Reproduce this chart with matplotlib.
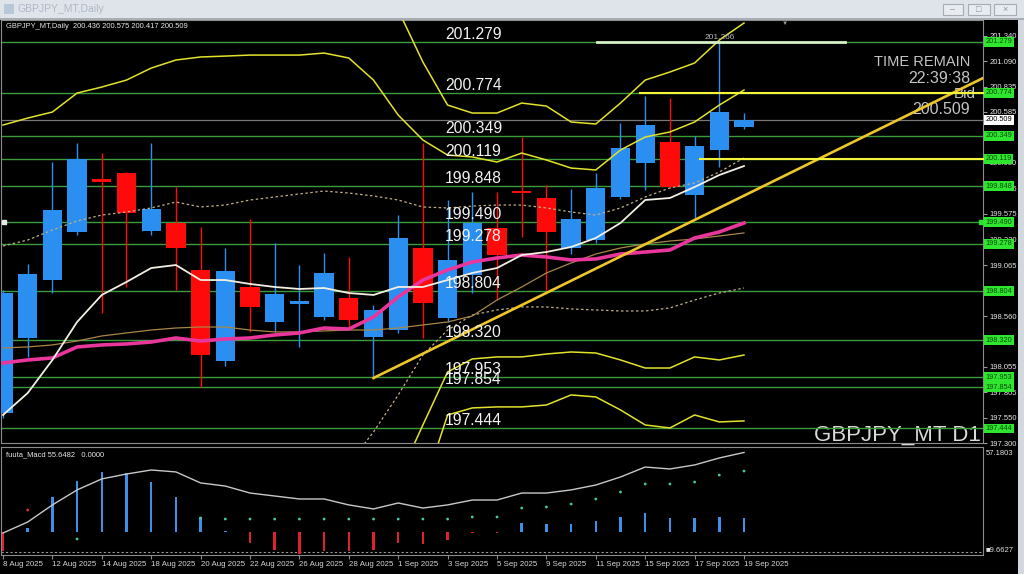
import numpy as np
import matplotlib.pyplot as plt
from matplotlib.patches import Rectangle
from matplotlib.transforms import blended_transform_factory

plt.rcParams['font.family'] = ['Liberation Sans', 'DejaVu Sans']

# ---- daily bars, GBPJPY 8 Aug .. 19 Sep 2025 ----
dates = ["8 Aug 2025", "11 Aug 2025", "12 Aug 2025", "13 Aug 2025", "14 Aug 2025",
         "15 Aug 2025", "18 Aug 2025", "19 Aug 2025", "20 Aug 2025", "21 Aug 2025",
         "22 Aug 2025", "25 Aug 2025", "26 Aug 2025", "27 Aug 2025", "28 Aug 2025",
         "29 Aug 2025", "1 Sep 2025", "2 Sep 2025", "3 Sep 2025", "4 Sep 2025",
         "5 Sep 2025", "8 Sep 2025", "9 Sep 2025", "10 Sep 2025", "11 Sep 2025",
         "12 Sep 2025", "15 Sep 2025", "16 Sep 2025", "17 Sep 2025", "18 Sep 2025",
         "19 Sep 2025"]
opens = [197.598, 198.342, 198.917, 199.394, 199.899, 199.979, 199.404, 199.483, 199.017, 198.114,
         198.848, 198.501, 198.679, 198.550, 198.739, 198.352, 198.421, 199.235, 198.540, 198.967,
         199.433, 199.800, 199.731, 199.235, 199.314, 199.741, 200.078, 200.286, 199.761, 200.207,
         200.436]
highs = [198.820, 199.076, 200.088, 200.276, 200.177, 199.989, 200.276, 199.840, 199.443, 199.235,
         199.523, 199.284, 199.066, 199.185, 199.146, 198.669, 199.562, 200.276, 199.711, 199.790,
         199.790, 200.336, 199.860, 199.820, 199.979, 200.475, 200.743, 200.723, 200.346, 201.266,
         200.575]
lows = [197.550, 198.154, 198.788, 199.364, 198.590, 198.848, 199.364, 198.818, 197.856, 198.064,
        198.402, 198.402, 198.253, 198.521, 198.441, 197.955, 198.392, 198.342, 198.501, 198.788,
        198.719, 199.344, 198.818, 199.175, 199.284, 199.721, 199.810, 199.830, 199.532, 200.038,
        200.417]
closes = [198.788, 198.977, 199.612, 200.118, 199.890, 199.582, 199.622, 199.235, 198.173, 199.007,
          198.650, 198.779, 198.699, 198.987, 198.521, 198.620, 199.334, 198.689, 199.116, 199.483,
          199.166, 199.780, 199.394, 199.523, 199.830, 200.227, 200.455, 199.840, 200.247, 200.584,
          200.509]

# moving averages
ma_fast = [197.578, 197.796, 198.124, 198.501, 198.769, 198.898, 199.036, 199.066, 198.917, 198.917,
           198.878, 198.848, 198.828, 198.838, 198.788, 198.769, 198.848, 198.848, 198.917, 198.987,
           199.036, 199.165, 199.195, 199.245, 199.334, 199.483, 199.711, 199.731, 199.840, 199.959,
           200.048]
ma_mid = [198.094, 198.124, 198.144, 198.253, 198.273, 198.283, 198.302, 198.342, 198.312, 198.332,
          198.342, 198.372, 198.392, 198.441, 198.431, 198.550, 198.749, 198.917, 199.017, 199.096,
          199.136, 199.165, 199.146, 199.116, 199.126, 199.175, 199.195, 199.215, 199.334, 199.394,
          199.483]
ma_slow = [198.243, 198.253, 198.273, 198.312, 198.362, 198.392, 198.421, 198.441, 198.451, 198.451,
           198.421, 198.402, 198.402, 198.412, 198.421, 198.421, 198.441, 198.471, 198.501, 198.560,
           198.719, 198.848, 198.987, 199.086, 199.175, 199.235, 199.275, 199.304, 199.324, 199.354,
           199.384]

# bollinger bands (1, 2, 3 sigma)
band_up1 = [199.255, 199.314, 199.413, 199.503, 199.562, 199.592, 199.632, 199.691, 199.642, 199.661,
            199.711, 199.741, 199.771, 199.800, 199.780, 199.751, 199.711, 199.642, 199.632, 199.651,
            199.661, 199.661, 199.632, 199.592, 199.562, 199.632, 199.741, 199.830, 199.880, 199.989,
            200.128]
band_dn1 = [196.914, 196.923, 196.923, 196.993, 196.993, 196.973, 196.943, 196.963, 196.904, 196.933,
            196.943, 196.983, 197.013, 197.082, 197.092, 197.410, 197.777, 198.173, 198.421, 198.570,
            198.620, 198.650, 198.650, 198.630, 198.620, 198.610, 198.610, 198.640, 198.719, 198.788,
            198.838]
band_up2 = [200.455, 200.524, 200.584, 200.772, 200.832, 200.901, 201.020, 201.100, 201.130, 201.139,
            201.149, 201.149, 201.149, 201.169, 201.120, 200.901, 200.554, 200.306, 200.157, 200.138,
            200.088, 200.177, 200.108, 200.028, 200.009, 200.207, 200.336, 200.386, 200.485, 200.653,
            200.802]
band_dn2 = [195.733, 195.723, 195.703, 195.733, 195.713, 195.664, 195.584, 195.584, 195.495, 195.525,
            195.535, 195.594, 195.634, 195.713, 195.743, 196.199, 196.943, 197.479, 198.005, 198.134,
            198.154, 198.154, 198.183, 198.203, 198.193, 198.124, 198.044, 198.044, 198.154, 198.124,
            198.173]
band_up3 = [201.635, 201.725, 201.804, 202.032, 202.112, 202.211, 202.379, 202.479, 202.538, 202.548,
            202.558, 202.538, 202.528, 202.538, 202.469, 202.082, 201.596, 201.080, 200.653, 200.574,
            200.574, 200.673, 200.643, 200.485, 200.465, 200.673, 200.901, 200.981, 201.070, 201.298,
            201.467]
band_dn3 = [194.553, 194.523, 194.483, 194.473, 194.433, 194.354, 194.225, 194.205, 194.086, 194.116,
            194.126, 194.205, 194.255, 194.344, 194.394, 195.019, 196.041, 196.834, 197.578, 197.648,
            197.658, 197.658, 197.677, 197.777, 197.757, 197.628, 197.479, 197.449, 197.578, 197.509,
            197.519]

# drawn objects
levels = [201.279, 200.774, 200.349, 200.119, 199.848, 199.490, 199.278, 198.804,
          198.320, 197.953, 197.854, 197.444]
yellow_levels = [200.774, 200.119]
yellow_start = [25.8, 28.2]
pale_level = 201.279
pale_span = (24.05, 34.1)
trend_x = [15, 40]
trend_y = [197.945, 200.960]
bid = 200.509
price_ticks = [201.340, 201.090, 200.835, 200.585, 200.330, 200.080, 199.825, 199.575, 199.320,
               199.065, 198.810, 198.560, 198.305, 198.055, 197.805, 197.550, 197.300]

# MACD sub window
macd_hist = [-13.0, 2.7, 23.5, 34.3, 40.4, 39.7, 33.6, 23.5, 10.1, 0.7, -7.4, -12.1, -14.6, -13.0,
             -13.0, -12.1, -7.4, -8.1, -5.4, -0.7, -0.7, 6.1, 5.4, 5.4, 7.4, 10.1, 12.8, 9.4, 9.4,
             10.1, 9.4]
macd_line = [-0.7, 6.7, 18.2, 28.3, 35.7, 39.0, 41.7, 40.4, 33.0, 30.9, 26.2, 24.2, 22.2, 22.2,
             18.2, 15.5, 19.5, 16.1, 18.2, 21.5, 21.5, 26.2, 26.2, 28.3, 31.6, 37.0, 43.7, 42.4,
             45.1, 49.8, 53.5]
nan = np.nan
macd_dots = [nan, 14.8, nan, -4.7, nan, nan, nan, nan, 9.4, 8.7, 8.7, 8.7, 8.7, 8.7, 8.7, 8.7,
             8.7, 8.7, 8.7, 10.1, 10.1, 16.1, 16.8, 18.8, 22.2, 26.9, 32.3, 32.3, 33.6, 38.3, 41.0]
macd_top, macd_bottom, macd_floor = 57.1803, -15.5, -13.45

# ---- layout (pixels of the 1024x574 screenshot) ----
W, H = 1024, 574
BAR_PX, X0_PX = 24.7, 3
L_PX, R_PX = 1, 983
MAIN_TOP, MAIN_BOT = 20, 443
SUB_TOP, SUB_BOT = 447, 555

BULL, BEAR = '#2b8ff2', '#ff0a0a'
GREEN = '#3c9c3c'
YEL = '#e2e22c'


def fig_box(left, top, right, bottom):
    return [left / W, 1 - bottom / H, (right - left) / W, (bottom - top) / H]


def fpx(px, py):
    return px / W, 1 - py / H


fig = plt.figure(figsize=(W / 100, H / 100), dpi=100, facecolor='black')
ax = fig.add_axes(fig_box(L_PX, MAIN_TOP, R_PX, MAIN_BOT), facecolor='black')
ax2 = fig.add_axes(fig_box(L_PX, SUB_TOP, R_PX, SUB_BOT), facecolor='black')
xlim = ((L_PX - X0_PX) / BAR_PX, (R_PX - X0_PX) / BAR_PX)

x = np.arange(len(dates))
o, h, l, c = map(np.array, (opens, highs, lows, closes))
col = np.where(c >= o, BULL, BEAR)

# levels
for lv in levels:
    ax.axhline(lv, color=GREEN, lw=1, zorder=2)
ax.axhline(bid, color='#777777', lw=0.9, zorder=2)

# time remain block (under the lines)
tf = fig.transFigure
ax.text(*fpx(970, 66), 'TIME REMAIN', transform=tf, ha='right', va='baseline',
        fontsize=10.5, color='#c4c4c4', zorder=1)
ax.text(*fpx(970, 83), '22:39:38', transform=tf, ha='right', va='baseline',
        fontsize=11.5, color='#c4c4c4', zorder=1)
ax.text(*fpx(976, 98), 'Bid', transform=tf, ha='right', va='baseline',
        fontsize=11, color='#c4c4c4', zorder=1)
ax.text(*fpx(970, 114), f'{bid:.3f}', transform=tf, ha='right', va='baseline',
        fontsize=11.5, color='#c4c4c4', zorder=1)
ax.text(*fpx(981, 441), 'GBPJPY_MT D1', transform=tf, ha='right', va='baseline',
        fontsize=16, color='#dadada', zorder=1)

# candles
ax.vlines(x, l, h, colors=col, lw=1, zorder=3)
body = np.maximum(np.abs(c - o), 0.025)
ax.bar(x, body, bottom=np.minimum(o, c), width=0.78, color=col, lw=0, zorder=4)

# bands and averages
for band in (band_up2, band_dn2, band_up3, band_dn3):
    ax.plot(x, band, color=YEL, lw=1.1, zorder=5)
for band in (band_up1, band_dn1):
    ax.plot(x, band, color='#bfae86', lw=0.9, ls=(0, (2, 2)), zorder=5)
ax.plot(x, ma_slow, color='#a88646', lw=0.9, zorder=5)
ax.plot(x, ma_mid, color='#e8369c', lw=2.6, zorder=5)
ax.plot(x, ma_fast, color='#f2efe2', lw=1.3, zorder=5)

# user objects
ax.plot(trend_x, trend_y, color='#eec62a', lw=1.9, zorder=5)
for lv, xs in zip(yellow_levels, yellow_start):
    ax.plot([xs, xlim[1] + 0.1], [lv, lv], color='#f4f43a', lw=1.5, zorder=5, clip_on=False)
ax.plot(pale_span, [pale_level, pale_level], color='#d4f0c4', lw=2, zorder=5)

tr_l = blended_transform_factory(ax.transAxes, ax.transData)
for lv in levels:
    ax.annotate(f'{lv:.3f}', xy=(0.4521, lv), xycoords=tr_l, xytext=(0, 3),
                textcoords='offset pixels', va='baseline', ha='left',
                fontsize=11.3, color='#f2f2f2', zorder=6)
ax.annotate(f'{highs[29]:.3f}', xy=(x[29], highs[29]), xytext=(0, 2),
            textcoords='offset pixels', ha='center', va='bottom',
            fontsize=6, color='#b8b8b8', zorder=6)
ax.plot([0.003], [199.490], transform=tr_l, marker='s', ms=2.5, color='#e8e8e8',
        clip_on=False, zorder=6)
ax.plot([0.998], [199.490], transform=tr_l, marker='s', ms=2.5, color='#30e030',
        clip_on=False, zorder=6)

ax.set_xlim(xlim)
ax.set_ylim(197.300, 201.497)
ax.set_xticks([])
ax.yaxis.tick_right()
ax.set_yticks(price_ticks)
# labels fully hidden by a level box in the terminal are left blank
tick_text = ['' if min(abs(v - lv) for lv in levels) < 0.02 else f'{v:.3f}' for v in price_ticks]
ax.set_yticklabels(tick_text)
ax.tick_params(axis='y', colors='#9a9a9a', labelcolor='#e4e4e4', labelsize=5.5,
               length=3, pad=2, width=0.8)
for sp in ax.spines.values():
    sp.set_color('#8c8c8c')

for lv in levels:
    ax.text(1.0025, lv, f'{lv:.3f}', transform=tr_l, fontsize=5.3, color='#0d4a0d',
            va='center', ha='left', clip_on=False, zorder=7,
            bbox=dict(boxstyle='square,pad=0.2', fc='#2ee62e', ec='none'))
ax.text(1.0025, bid, f'{bid:.3f}', transform=tr_l, fontsize=5.3, color='black',
        va='center', ha='left', clip_on=False, zorder=7,
        bbox=dict(boxstyle='square,pad=0.2', fc='white', ec='none'))

# MACD
hist = np.array(macd_hist)
ax2.bar(x, hist, width=0.1, color=np.where(hist >= 0, '#3d8fe8', '#e0202e'), lw=0, zorder=3)
ax2.plot(x, macd_line, color='#c8c8c8', lw=1, zorder=4)
dot_cols = ['#e03030' if i == 1 else '#46c8ae' for i in x]
ax2.scatter(x, macd_dots, s=4, c=dot_cols, lw=0, zorder=5)
ax2.axhline(macd_floor, color='#9a9a9a', lw=0.8, ls=(0, (2, 2)), zorder=2)
ax2.set_xlim(xlim)
ax2.set_ylim(macd_bottom, macd_top)
ax2.set_yticks([])
ax2.set_xticks(x[::2])
ax2.set_xticklabels(dates[::2])
plt.setp(ax2.get_xticklabels(), ha='left')
ax2.tick_params(axis='x', colors='#8a8a8a', labelcolor='#d4d4d4', labelsize=5.7,
                length=3, pad=1.5, width=0.8)
for sp in ax2.spines.values():
    sp.set_color('#8c8c8c')
ax2.text(1.003, 0.94, f'{macd_top:.4f}', transform=ax2.transAxes, fontsize=5.5,
         color='#e0e0e0', va='center', ha='left', clip_on=False)
ax2.text(1.003, 0.04, '\u25a09.6627', transform=ax2.transAxes, fontsize=5.5,
         color='#e0e0e0', va='center', ha='left', clip_on=False)

# headers
fig.text(*fpx(6, 27), 'GBPJPY_MT,Daily  200.436 200.575 200.417 200.509',
         fontsize=5.4, color='#e8e8e8', va='center')
fig.text(*fpx(6, 455), 'fuuta_Macd 55.6482   0.0000', fontsize=5.4,
         color='#e8e8e8', va='center')
fig.text(*fpx(785, 23), '\u25bc', fontsize=4.5, color='#9a9a9a', ha='center', va='center')

# window chrome
fig.add_artist(Rectangle(fpx(0, 18), 1, 18 / H, transform=tf, fc='#dfe4ea', ec='none'))
fig.add_artist(Rectangle(fpx(0, 20), 1, 2 / H, transform=tf, fc='#a6adb5', ec='none'))
fig.add_artist(Rectangle(fpx(1018, 574), 6 / W, 554 / H, transform=tf, fc='#d3d8de', ec='none'))
fig.add_artist(Rectangle(fpx(4, 14), 10 / W, 10 / H, transform=tf, fc='#b9c8d8', ec='none'))
fig.text(*fpx(18, 9), 'GBPJPY_MT,Daily', fontsize=7.5, color='#aeb8c4', va='center')
for left, right, sym in ((943, 963, '\u2013'), (968, 990, '\u25a1'), (994, 1016, '\u00d7')):
    fig.add_artist(Rectangle(fpx(left, 15), (right - left) / W, 11 / H, transform=tf,
                             fc='#e8ecf0', ec='#a4acb4', lw=0.8))
    fig.text(*fpx((left + right) / 2, 9.5), sym, fontsize=6.5, color='#8a929a',
             ha='center', va='center')

fig.savefig('out.png', dpi=100, facecolor='black')
